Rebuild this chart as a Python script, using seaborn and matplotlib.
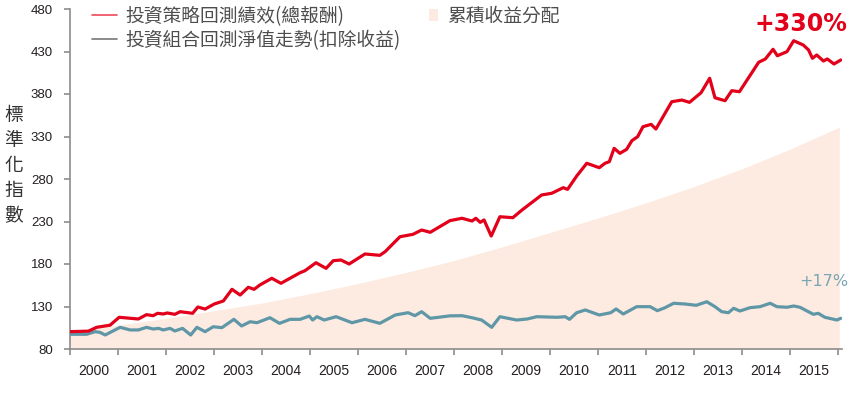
import numpy as np
import pandas as pd
import matplotlib
matplotlib.use("Agg")
import matplotlib.pyplot as plt
import seaborn as sns
from matplotlib.lines import Line2D
from matplotlib.patches import Patch

# ============================================
# DATA
# ============================================

# total return backtest (red)
red_years = [2000.00, 2000.39, 2000.56, 2000.84, 2001.03, 2001.43, 2001.60, 2001.74,
             2001.83, 2001.95, 2002.03, 2002.19, 2002.30, 2002.56, 2002.67, 2002.82,
             2003.01, 2003.20, 2003.38, 2003.55, 2003.72, 2003.84, 2003.96, 2004.21,
             2004.40, 2004.80, 2004.90, 2005.13, 2005.34, 2005.49, 2005.65, 2005.82,
             2006.15, 2006.46, 2006.57, 2006.88, 2007.15, 2007.33, 2007.51, 2007.92,
             2008.17, 2008.38, 2008.46, 2008.55, 2008.63, 2008.78, 2008.96, 2009.23,
             2009.42, 2009.83, 2010.04, 2010.28, 2010.37, 2010.56, 2010.77, 2011.03,
             2011.15, 2011.24, 2011.34, 2011.46, 2011.60, 2011.71, 2011.83, 2011.94,
             2012.11, 2012.21, 2012.54, 2012.75, 2012.91, 2013.15, 2013.33, 2013.44,
             2013.65, 2013.79, 2013.95, 2014.35, 2014.49, 2014.65, 2014.74, 2014.94,
             2015.08, 2015.28, 2015.39, 2015.47, 2015.56, 2015.70, 2015.78, 2015.92,
             2016.06]
red_values = [100.4, 101.0, 105.5, 108.0, 117.3, 115.3, 120.4, 119.2,
              122.0, 121.2, 122.4, 120.8, 123.9, 122.0, 129.4, 127.0,
              132.9, 136.5, 150.2, 143.5, 152.6, 150.2, 155.3, 163.2,
              157.3, 169.8, 172.1, 181.5, 174.9, 183.9, 184.7, 180.0,
              191.8, 190.2, 194.5, 212.1, 214.9, 220.0, 217.3, 231.0,
              233.8, 230.6, 233.8, 229.0, 231.8, 212.9, 235.6, 234.5,
              243.5, 261.2, 263.2, 269.8, 267.8, 283.5, 298.5, 293.3,
              298.5, 300.4, 316.1, 310.2, 314.9, 325.1, 329.8, 341.5,
              344.3, 338.8, 370.9, 372.9, 370.2, 381.5, 398.5, 375.6,
              372.1, 383.9, 382.7, 417.3, 421.2, 432.6, 425.0, 429.8,
              442.7, 437.6, 431.8, 422.0, 425.9, 418.8, 421.2, 415.3,
              420.0]

# NAV excluding distributions (teal)
teal_years = [2000.00, 2000.35, 2000.53, 2000.63, 2000.74, 2001.05, 2001.26, 2001.43,
              2001.60, 2001.74, 2001.85, 2001.95, 2002.09, 2002.19, 2002.35, 2002.52,
              2002.65, 2002.82, 2002.99, 2003.17, 2003.42, 2003.58, 2003.76, 2003.90,
              2004.17, 2004.37, 2004.59, 2004.80, 2004.99, 2005.06, 2005.15, 2005.30,
              2005.55, 2005.88, 2006.15, 2006.46, 2006.78, 2007.05, 2007.19, 2007.33,
              2007.51, 2007.92, 2008.17, 2008.38, 2008.58, 2008.79, 2008.96, 2009.31,
              2009.53, 2009.73, 2010.15, 2010.32, 2010.41, 2010.56, 2010.74, 2011.03,
              2011.27, 2011.38, 2011.53, 2011.81, 2012.09, 2012.24, 2012.40, 2012.58,
              2012.82, 2013.05, 2013.27, 2013.44, 2013.58, 2013.72, 2013.83, 2013.96,
              2014.17, 2014.38, 2014.59, 2014.73, 2014.94, 2015.08, 2015.21, 2015.49,
              2015.59, 2015.73, 2015.98, 2016.06]
teal_values = [97.3, 97.3, 100.4, 99.6, 96.5, 105.5, 102.4, 102.4,
               105.5, 103.5, 104.3, 102.4, 104.3, 101.2, 104.3, 96.5,
               105.5, 100.4, 106.2, 105.1, 114.9, 107.1, 112.1, 110.9,
               116.8, 110.2, 114.9, 114.9, 118.8, 114.1, 118.0, 114.1,
               118.0, 110.9, 114.9, 110.2, 120.0, 122.7, 119.2, 123.9,
               116.1, 119.0, 119.2, 116.8, 114.1, 105.5, 118.0, 114.1,
               115.3, 118.0, 117.3, 118.0, 114.9, 122.7, 125.9, 120.0,
               122.7, 127.1, 121.2, 129.8, 129.8, 125.1, 128.6, 133.8,
               132.9, 131.4, 135.6, 129.8, 123.9, 122.7, 127.9, 124.7,
               128.6, 129.8, 133.8, 129.8, 129.1, 130.6, 129.1, 120.8,
               122.0, 117.3, 114.1, 116.1]

# cumulative distributions (shaded area top)
dist_years = [2000, 2001, 2002, 2003, 2004, 2005, 2006, 2007, 2008,
              2009, 2010, 2011, 2012, 2013, 2014, 2015, 2016.03]
dist_values = [100, 108, 116, 125, 134, 145, 157, 170, 184,
               200, 217, 234, 252, 271, 292, 315, 341]

year_ticks = list(range(2000, 2017))
year_labels = [str(y) for y in range(2000, 2016)]
y_ticks = [80, 130, 180, 230, 280, 330, 380, 430, 480]

label_red = "投資策略回測績效(總報酬)"
label_teal = "投資組合回測淨值走勢(扣除收益)"
label_dist = "累積收益分配"
y_title = "標\n準\n化\n指\n數"

RED = "#e2001a"
TEAL = "#5f97a7"
FILL = "#fdebe1"
GRID_GRAY = "#8c8c8c"

# ============================================
# PLOT
# ============================================

sns.set_style("ticks")
plt.rcParams['font.family'] = ['Noto Sans CJK TC', 'DejaVu Sans']

red_df = pd.DataFrame({"year": red_years, "value": red_values})
teal_df = pd.DataFrame({"year": teal_years, "value": teal_values})

fig = plt.figure(figsize=(8.51, 3.94), dpi=100)
ax = fig.add_axes([69.7 / 851, 45 / 394, 772 / 851, 340 / 394])

ax.fill_between(dist_years, 80, dist_values, color=FILL, lw=0, zorder=1)

sns.lineplot(data=teal_df, x="year", y="value", color=TEAL, lw=2.3,
             ax=ax, legend=False, zorder=3)
sns.lineplot(data=red_df, x="year", y="value", color=RED, lw=2.3,
             ax=ax, legend=False, zorder=4)

ax.set_xlim(2000, 2016.08)
ax.set_ylim(80, 480)
ax.set_xlabel("")
ax.set_ylabel("")

# axes styling
for side in ["top", "right"]:
    ax.spines[side].set_visible(False)
for side in ["left", "bottom"]:
    ax.spines[side].set_color(GRID_GRAY)
    ax.spines[side].set_linewidth(1.2)

ax.set_yticks(y_ticks)
ax.set_yticklabels([str(v) for v in y_ticks], fontfamily="Liberation Sans",
                   fontsize=9.5, color="#231f20")
ax.tick_params(axis="y", length=4, width=1.2, color=GRID_GRAY, pad=8)

# year boundaries as ticks, labels centered between them
ax.set_xticks(year_ticks)
ax.set_xticklabels([])
ax.set_xticks([y + 0.5 for y in range(2000, 2016)], minor=True)
ax.set_xticklabels(year_labels, minor=True, fontfamily="Liberation Sans",
                   fontsize=10, color="#231f20")
ax.tick_params(axis="x", which="major", length=4, width=1.2, color=GRID_GRAY)
ax.tick_params(axis="x", which="minor", length=0, pad=11)

ax.set_ylabel(y_title, rotation=0, fontsize=13.5, color="#333333",
              linespacing=1.26, ha="center", va="center")
ax.yaxis.set_label_coords(-0.072, 0.54)

# annotations
ax.text(2015.24, 462, "+330%", color=RED, fontsize=17, fontweight="bold",
        fontfamily="DejaVu Sans", ha="center", va="center")
ax.text(2015.71, 159, "+17%", color="#7aa6b3", fontsize=11.5,
        fontfamily="DejaVu Sans", ha="center", va="center")

# legends
line_handles = [Line2D([0], [0], color="#f0475a", lw=1.2),
                Line2D([0], [0], color="#777777", lw=1.2)]
leg1 = fig.legend(line_handles, [label_red, label_teal],
                  loc="upper left", bbox_to_anchor=(92 / 851, 1 - 6 / 394),
                  frameon=False, fontsize=13.5, handlelength=1.35,
                  handletextpad=0.42, labelspacing=0.16, borderpad=0,
                  borderaxespad=0, labelcolor="#4d4d4d")
leg2 = fig.legend([Patch(facecolor=FILL, edgecolor="none")], [label_dist],
                  loc="upper left", bbox_to_anchor=(429 / 851, 1 - 6 / 394),
                  frameon=False, fontsize=13.5, handlelength=0.5,
                  handleheight=0.6, handletextpad=0.45, borderpad=0,
                  borderaxespad=0, labelcolor="#4d4d4d")

fig.savefig("out.png", dpi=100)
